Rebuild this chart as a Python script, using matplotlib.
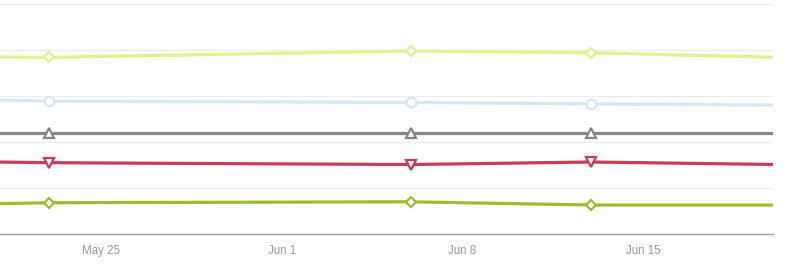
import numpy as np
import pandas as pd
import matplotlib
matplotlib.use('Agg')
import matplotlib.pyplot as plt

dates = pd.to_datetime(['2015-05-21 00:00', '2015-05-23 00:00', '2015-06-06 00:00',
                        '2015-06-13 00:00', '2015-06-20 06:00'])
yellow = [3.85, 3.84, 3.98, 3.94, 3.84]
blue = [2.91, 2.89, 2.86, 2.83, 2.80]
gray = [2.20, 2.20, 2.20, 2.20, 2.20]
red = [1.565, 1.55, 1.51, 1.565, 1.51]
green = [0.66, 0.68, 0.70, 0.63, 0.63]

tick_dates = pd.to_datetime(['2015-05-25', '2015-06-01', '2015-06-08', '2015-06-15'])
tick_labels = ['May 25', 'Jun 1', 'Jun 8', 'Jun 15']

plt.rcParams['font.family'] = ['Liberation Sans', 'DejaVu Sans']

fig = plt.figure(figsize=(7.88, 2.71), dpi=100)
ax = fig.add_axes([0, 37 / 271, 773 / 788, 230 / 271])

series = [(yellow, '#e2f08e', 'D', 5.5),
          (blue, '#d5e8f2', 'o', 7),
          (gray, '#868686', '^', 7.5),
          (red, '#c93a5b', 'v', 7.5),
          (green, '#9cbd2a', 'D', 5.5)]

for vals, c, m, ms in series:
    ax.plot(dates, vals, color=c, linewidth=2.3, marker=m, markersize=ms,
            markerfacecolor='white', markeredgecolor=c, markeredgewidth=1.6,
            markevery=[1, 2, 3], solid_capstyle='butt', zorder=3)

ax.set_xlim(pd.Timestamp('2015-05-21 02:00'), pd.Timestamp('2015-06-20 01:00'))
ax.set_ylim(0, 5)
ax.set_yticks(np.arange(0, 6))
ax.set_yticklabels([])
ax.tick_params(axis='y', length=0)
ax.grid(axis='y', color='#ececec', linewidth=0.8)
ax.set_axisbelow(True)

ax.set_xticks(tick_dates)
ax.set_xticklabels(tick_labels)
ax.tick_params(axis='x', length=0, pad=8, labelsize=8.3, labelcolor='#999999')

for side in ['top', 'right', 'left']:
    ax.spines[side].set_visible(False)
ax.spines['bottom'].set_color('#a0a0a0')
ax.spines['bottom'].set_linewidth(1)

fig.savefig('out.png', dpi=100, facecolor='white')
